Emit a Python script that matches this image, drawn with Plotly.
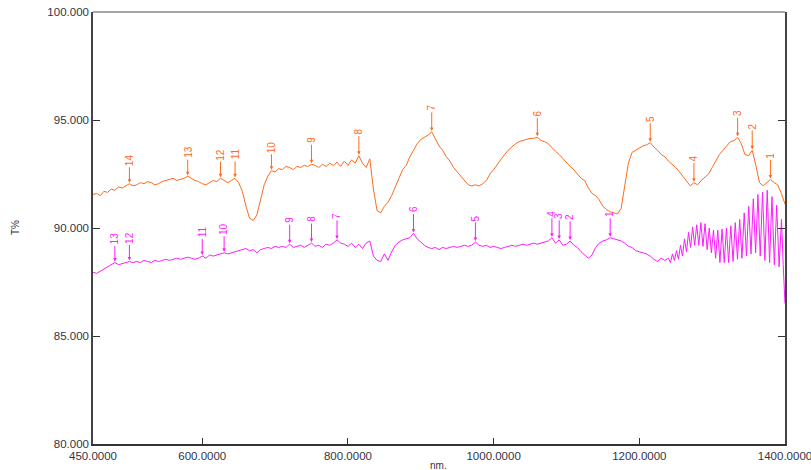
import plotly.graph_objects as go

# ---------------- data ----------------
orange_nm = list(range(450, 1401, 5))
orange_T = [
    91.55, 91.60, 91.50, 91.70, 91.65, 91.80, 91.75, 91.90, 91.85, 91.95,   # 450-495
    92.05, 91.95, 92.00, 92.10, 92.05, 92.15, 92.10, 92.00, 92.05, 92.15,   # 500-545
    92.20, 92.25, 92.30, 92.20, 92.25, 92.30, 92.40, 92.30, 92.20, 92.15,   # 550-595
    92.05, 92.00, 92.10, 92.20, 92.15, 92.30, 92.20, 92.10, 92.20, 92.30,   # 600-645
    92.10, 91.70, 91.00, 90.45, 90.35, 90.60, 91.30, 92.00, 92.40, 92.65,   # 650-695
    92.60, 92.75, 92.70, 92.85, 92.80, 92.70, 92.85, 92.80, 92.90, 92.85,   # 700-745
    92.95, 92.90, 92.80, 92.95, 92.85, 93.00, 92.90, 93.05, 92.85, 93.10,   # 750-795
    92.90, 93.15, 93.00, 93.35, 93.00, 92.80, 93.20, 91.80, 90.80, 90.70,   # 800-845
    91.00, 91.20, 91.50, 91.90, 92.30, 92.70, 92.90, 93.30, 93.60, 93.90,   # 850-895
    94.10, 94.20, 94.30, 94.45, 94.10, 93.80, 93.60, 93.30, 93.10, 92.80,   # 900-945
    92.60, 92.40, 92.20, 92.00, 91.95, 92.00, 91.95, 92.05, 92.20, 92.50,   # 950-995
    92.70, 92.95, 93.20, 93.40, 93.60, 93.75, 93.90, 94.00, 94.05, 94.10,   # 1000-1045
    94.15, 94.15, 94.20, 94.05, 94.00, 93.90, 93.70, 93.55, 93.40, 93.20,   # 1050-1095
    93.05, 92.85, 92.70, 92.50, 92.30, 92.20, 91.85, 91.60, 91.50, 91.30,   # 1100-1145
    91.00, 90.85, 90.75, 90.70, 90.65, 90.90, 92.00, 93.00, 93.50, 93.60,   # 1150-1195
    93.70, 93.80, 93.85, 93.95, 93.75, 93.60, 93.40, 93.30, 93.10, 92.95,   # 1200-1245
    92.80, 92.60, 92.40, 92.20, 91.95, 92.10, 92.00, 92.20, 92.35, 92.50,   # 1250-1295
    92.80, 93.10, 93.40, 93.60, 93.80, 94.00, 94.05, 94.20, 93.90, 93.40,   # 1300-1345
    93.35, 93.60, 92.90, 92.10, 91.95, 92.10, 92.25, 92.10, 92.00, 91.60,   # 1350-1395
    91.10,                                                                  # 1400
]

magenta_nm_smooth = list(range(450, 1236, 5))
magenta_T_smooth = [
    87.95, 87.90, 88.00, 88.10, 88.20, 88.30, 88.40, 88.30, 88.35, 88.40,   # 450-495
    88.45, 88.40, 88.45, 88.40, 88.50, 88.45, 88.40, 88.50, 88.45, 88.50,   # 500-545
    88.55, 88.50, 88.55, 88.60, 88.55, 88.60, 88.65, 88.60, 88.55, 88.60,   # 550-595
    88.70, 88.60, 88.75, 88.70, 88.75, 88.80, 88.85, 88.80, 88.85, 88.90,   # 600-645
    88.95, 89.00, 89.05, 88.95, 89.00, 88.85, 89.00, 89.05, 89.10, 89.05,   # 650-695
    89.15, 89.10, 89.15, 89.10, 89.25, 89.10, 89.15, 89.20, 89.10, 89.20,   # 700-745
    89.30, 89.15, 89.20, 89.10, 89.25, 89.20, 89.30, 89.45, 89.30, 89.25,   # 750-795
    89.15, 89.30, 89.10, 89.25, 89.05, 89.30, 89.40, 88.70, 88.50, 88.45,   # 800-845
    88.80, 88.50, 88.90, 89.20, 89.35, 89.45, 89.50, 89.55, 89.75, 89.50,   # 850-895
    89.35, 89.20, 89.10, 89.05, 89.10, 89.00, 89.10, 89.05, 89.10, 89.15,   # 900-945
    89.10, 89.15, 89.20, 89.15, 89.20, 89.35, 89.20, 89.15, 89.20, 89.10,   # 950-995
    89.15, 89.10, 89.05, 89.10, 89.15, 89.20, 89.15, 89.20, 89.25, 89.20,   # 1000-1045
    89.25, 89.30, 89.25, 89.30, 89.35, 89.40, 89.55, 89.30, 89.45, 89.20,   # 1050-1095
    89.25, 89.40, 89.20, 89.10, 88.90, 88.75, 88.60, 88.75, 89.10, 89.30,   # 1100-1145
    89.40, 89.45, 89.55, 89.50, 89.45, 89.40, 89.30, 89.15, 89.10, 88.95,   # 1150-1195
    88.90, 88.85, 88.80, 88.70, 88.55, 88.45, 88.60, 88.50,                 # 1200-1235
]

# interference fringes at the long-wavelength end (peak / trough pairs)
fringe_nm = [
    1240.0, 1242.75, 1245.5, 1248.25, 1251.0, 1253.75, 1256.5, 1259.25,
    1262.0, 1264.8, 1267.6, 1270.4, 1273.2, 1276.0, 1278.8, 1281.65,
    1284.5, 1287.35, 1290.2, 1293.1, 1296.0, 1298.9, 1301.8, 1304.75,
    1307.7, 1310.65, 1313.6, 1316.6, 1319.6, 1322.6, 1325.6, 1328.65,
    1331.7, 1334.75, 1337.8, 1340.9, 1344.0, 1347.1, 1350.2, 1353.35,
    1356.5, 1359.65, 1362.8, 1366.0, 1369.2, 1372.4, 1375.6, 1378.85,
    1382.1, 1385.35, 1388.6, 1391.9, 1395.2, 1397.5, 1398.5, 1400.0,
]
fringe_T = [
    88.60, 88.40, 88.80, 88.50, 88.95, 88.55, 89.20, 88.70,
    89.50, 88.90, 89.80, 89.10, 90.05, 89.20, 90.15, 89.20,
    90.25, 89.15, 90.20, 89.00, 90.00, 88.85, 89.90, 88.60,
    89.90, 88.40, 89.95, 88.40, 90.00, 88.40, 90.10, 88.45,
    90.25, 88.55, 90.40, 88.60, 90.70, 88.70, 91.00, 88.80,
    91.35, 88.85, 91.55, 88.70, 91.65, 88.50, 91.75, 88.40,
    91.45, 88.30, 91.05, 88.20, 90.40, 88.30, 87.50, 86.50,
]

magenta_nm = magenta_nm_smooth + fringe_nm
magenta_T = magenta_T_smooth + fringe_T

# peak picks: label -> wavelength (nm)
orange_peak_labels = ["1", "2", "3", "4", "5", "6", "7", "8", "9", "10", "11", "12", "13", "14"]
orange_peak_nm = [1380, 1355, 1335, 1275, 1215, 1060, 915, 815, 750, 695, 645, 625, 580, 500]
magenta_peak_labels = ["1", "2", "3", "4", "5", "6", "7", "8", "9", "10", "11", "12", "13"]
magenta_peak_nm = [1160, 1105, 1090, 1080, 975, 890, 785, 750, 720, 630, 600, 500, 480]

x_ticks = [450, 600, 800, 1000, 1200, 1400]
y_ticks = [80, 85, 90, 95, 100]

ORANGE = "#FF6A1A"
MAGENTA = "#FF1AFF"
FONT = "Liberation Sans, Arial, sans-serif"
TXT = "#333344"

fig = go.Figure()
fig.add_trace(go.Scatter(x=orange_nm, y=orange_T, mode="lines",
                         line=dict(color=ORANGE, width=1), showlegend=False))
fig.add_trace(go.Scatter(x=magenta_nm, y=magenta_T, mode="lines",
                         line=dict(color=MAGENTA, width=1), showlegend=False))


def lookup(xs, ys, x0):
    i = min(range(len(xs)), key=lambda k: abs(xs[k] - x0))
    return ys[i]


annotations = []
for lab, nm in zip(orange_peak_labels, orange_peak_nm):
    annotations.append(dict(
        x=nm, y=lookup(orange_nm, orange_T, nm), text=lab, textangle=-90,
        showarrow=True, ax=0, ay=-24, arrowhead=2, arrowsize=0.7, arrowwidth=1,
        arrowcolor=ORANGE, standoff=1, font=dict(color=ORANGE, size=10, family=FONT)))
for lab, nm in zip(magenta_peak_labels, magenta_peak_nm):
    annotations.append(dict(
        x=nm, y=lookup(magenta_nm, magenta_T, nm), text=lab, textangle=-90,
        showarrow=True, ax=0, ay=-24, arrowhead=2, arrowsize=0.7, arrowwidth=1,
        arrowcolor=MAGENTA, standoff=1, font=dict(color=MAGENTA, size=10, family=FONT)))

# axis titles (positions relative to the plot area: left 93, right 785, top 12, bottom 444)
annotations.append(dict(text="T%", textangle=-90, showarrow=False,
                        xref="x domain", yref="y domain", xanchor="center", yanchor="middle",
                        x=(15 - 93) / 692, y=(444 - 228) / 432,
                        font=dict(size=10, color=TXT)))
annotations.append(dict(text="nm.", showarrow=False, xref="x domain", yref="y domain",
                        xanchor="center", yanchor="middle",
                        x=(438 - 93) / 692, y=-(465 - 444) / 432,
                        font=dict(size=10, color=TXT)))

fig.update_layout(
    width=811, height=470,
    margin=dict(l=93, r=26, t=12, b=26, autoexpand=False),
    paper_bgcolor="white", plot_bgcolor="white",
    font=dict(family=FONT, size=11.5, color=TXT),
    annotations=annotations,
    shapes=[dict(type="line", xref="paper", yref="paper", x0=0, x1=1, y0=1, y1=1,
                 line=dict(color="#8a8a8a", width=1.5))],
)
fig.update_xaxes(
    range=[450, 1400], tickvals=x_ticks, tickformat=".4f", automargin=False,
    ticks="inside", ticklen=6, tickcolor="#333", showgrid=False, zeroline=False,
    showline=True, linecolor="#333", linewidth=1.5, mirror=False,
    ticklabeloverflow="allow",
    tickfont=dict(size=11.5, color=TXT),
)
fig.update_yaxes(
    range=[80, 100], tickvals=y_ticks, tickformat=".3f", automargin=False,
    ticks="inside", ticklen=7, tickcolor="#333", showgrid=False, zeroline=False,
    showline=True, linecolor="#444", linewidth=1.5, mirror="ticks",
    ticklabeloverflow="allow",
    tickfont=dict(size=11.5, color=TXT),
)

# remove the default 8 px page margin so the figure fills the window exactly
fig.write_html("out.html",
               config={"displayModeBar": False},
               post_script="document.body.style.margin='0px';"
                           "document.body.style.overflow='hidden';")
